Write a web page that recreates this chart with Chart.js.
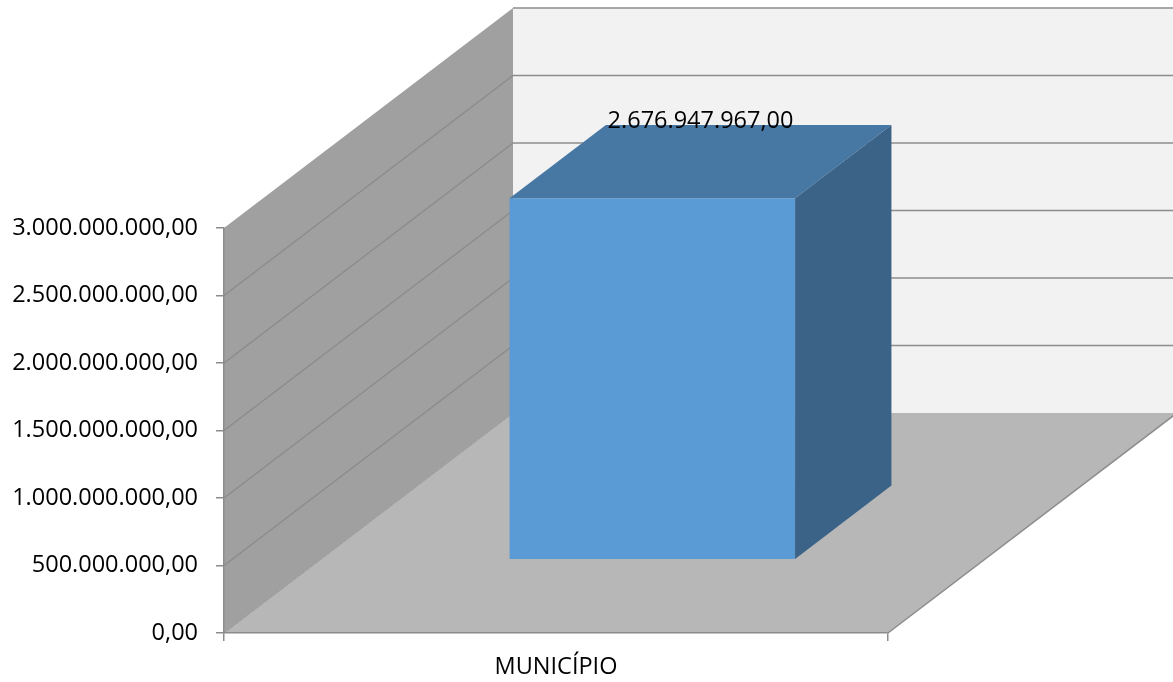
<!DOCTYPE html>
<html>
<head>
<meta charset="utf-8">
<script src="https://cdn.jsdelivr.net/npm/chart.js@4/dist/chart.umd.min.js"></script>
<style>
  html, body { margin: 0; padding: 0; background: #ffffff; }
  canvas { display: block; }
</style>
</head>
<body>
<canvas id="c" width="1173" height="682"></canvas>
<script>
// ---- data ----
const categories = ['MUNICÍPIO'];
const values = [2676947967];
const yTickValues = [0, 500000000, 1000000000, 1500000000, 2000000000, 2500000000, 3000000000];
const yMin = 0;
const yMax = 3000000000;
const yStep = 500000000;

// ---- helpers ----
function fmtBR(v) {
  const neg = v < 0;
  v = Math.abs(v);
  const fixed = v.toFixed(2);
  const parts = fixed.split('.');
  const intPart = parts[0].replace(/\B(?=(\d{3})+(?!\d))/g, '.');
  return (neg ? '-' : '') + intPart + ',' + parts[1];
}

const FONT = "'Open Sans', 'Noto Sans', sans-serif";
const DEPTH = { x: 289, y: -220 };   // 3D depth vector of the plot box
const BAR_FRONT = 1 / 3;            // bar occupies middle third of depth
const BAR_BACK = 2 / 3;

const COLORS = {
  backWall: '#f2f2f2',
  sideWall: '#a0a0a0',
  floor: '#b7b7b7',
  grid: '#8c8c8c',
  sideGrid: '#8a8a8a',
  barFront: '#5b9bd5',
  barTop: '#4777a3',
  barSide: '#3a6387'
};

const walls3D = {
  id: 'walls3D',
  beforeDraw(chart) {
    const { ctx, chartArea: a } = chart;
    const ys = chart.scales.y;
    const dx = DEPTH.x, dy = DEPTH.y;
    ctx.save();
    // back wall
    ctx.fillStyle = COLORS.backWall;
    ctx.fillRect(a.left + dx, a.top + dy, a.right - a.left, a.bottom - a.top);
    // back wall grid lines
    ctx.strokeStyle = COLORS.grid;
    ctx.lineWidth = 1.6;
    yTickValues.forEach(v => {
      if (v === yMin) return;
      const y = ys.getPixelForValue(v) + dy;
      ctx.beginPath();
      ctx.moveTo(a.left + dx, y);
      ctx.lineTo(a.right + dx + 2, y);
      ctx.stroke();
    });
    // left wall
    ctx.fillStyle = COLORS.sideWall;
    ctx.beginPath();
    ctx.moveTo(a.left, a.bottom);
    ctx.lineTo(a.left, a.top);
    ctx.lineTo(a.left + dx, a.top + dy);
    ctx.lineTo(a.left + dx, a.bottom + dy);
    ctx.closePath();
    ctx.fill();
    // left wall grid lines
    ctx.strokeStyle = COLORS.sideGrid;
    ctx.lineWidth = 1.2;
    yTickValues.forEach(v => {
      if (v === yMin || v === yMax) return;
      const y = ys.getPixelForValue(v);
      ctx.beginPath();
      ctx.moveTo(a.left, y);
      ctx.lineTo(a.left + dx, y + dy);
      ctx.stroke();
    });
    // floor
    ctx.fillStyle = COLORS.floor;
    ctx.beginPath();
    ctx.moveTo(a.left, a.bottom);
    ctx.lineTo(a.right, a.bottom);
    ctx.lineTo(a.right + dx, a.bottom + dy);
    ctx.lineTo(a.left + dx, a.bottom + dy);
    ctx.closePath();
    ctx.fill();
    // floor edges
    ctx.strokeStyle = COLORS.grid;
    ctx.lineWidth = 1.5;
    ctx.beginPath();
    ctx.moveTo(a.right, a.bottom);
    ctx.lineTo(a.right + dx, a.bottom + dy);
    ctx.stroke();
    ctx.strokeStyle = '#9a9a9a';
    ctx.lineWidth = 1;
    ctx.beginPath();
    ctx.moveTo(a.left, a.bottom);
    ctx.lineTo(a.left + dx, a.bottom + dy);
    ctx.stroke();
    ctx.restore();
  },
  beforeDatasetDraw(chart) {
    chart.ctx.save();
    chart.ctx.translate(DEPTH.x * BAR_FRONT, DEPTH.y * BAR_FRONT);
  },
  afterDatasetDraw(chart, args) {
    const { ctx } = chart;
    ctx.restore();
    const meta = args.meta;
    const bx = DEPTH.x * BAR_FRONT, by = DEPTH.y * BAR_FRONT;
    const ddx = DEPTH.x * (BAR_BACK - BAR_FRONT), ddy = DEPTH.y * (BAR_BACK - BAR_FRONT);
    meta.data.forEach((bar, i) => {
      const p = bar.getProps(['x', 'y', 'base', 'width'], true);
      const L = p.x - p.width / 2 + bx;
      const R = p.x + p.width / 2 + bx;
      const T = p.y + by;
      const B = p.base + by;
      ctx.save();
      // top face
      ctx.fillStyle = COLORS.barTop;
      ctx.beginPath();
      ctx.moveTo(L, T);
      ctx.lineTo(R, T);
      ctx.lineTo(R + ddx, T + ddy);
      ctx.lineTo(L + ddx, T + ddy);
      ctx.closePath();
      ctx.fill();
      // right face
      ctx.fillStyle = COLORS.barSide;
      ctx.beginPath();
      ctx.moveTo(R, T);
      ctx.lineTo(R + ddx, T + ddy);
      ctx.lineTo(R + ddx, B + ddy);
      ctx.lineTo(R, B);
      ctx.closePath();
      ctx.fill();
      // value label
      ctx.fillStyle = '#000';
      ctx.font = '23.5px ' + FONT;
      ctx.textAlign = 'center';
      ctx.textBaseline = 'alphabetic';
      ctx.fillText(fmtBR(values[i]), p.x + DEPTH.x * 0.5, T + ddy + 3);
      ctx.restore();
    });
  }
};

new Chart(document.getElementById('c'), {
  type: 'bar',
  data: {
    labels: categories,
    datasets: [{
      data: values,
      backgroundColor: COLORS.barFront,
      borderWidth: 0,
      barPercentage: 0.43,
      categoryPercentage: 1.0,
      clip: false
    }]
  },
  options: {
    responsive: false,
    animation: false,
    devicePixelRatio: 1,
    layout: { padding: { top: 228, right: 285, left: 0, bottom: 0 } },
    plugins: {
      legend: { display: false },
      tooltip: { enabled: false },
      title: { display: false }
    },
    scales: {
      x: {
        offset: true,
        grid: { display: true, offset: true, drawOnChartArea: false, drawTicks: true, tickLength: 8, color: '#8c8c8c', lineWidth: 1.5 },
        border: { display: true, color: '#8c8c8c', width: 1.5 },
        ticks: { color: '#000', font: { family: FONT, size: 23.5 }, padding: 12, maxRotation: 0 },
        afterFit(s) { s.height = 49; }
      },
      y: {
        min: yMin,
        max: yMax,
        grid: { display: true, drawOnChartArea: false, drawTicks: true, tickLength: 8, color: '#8c8c8c', lineWidth: 1.5 },
        border: { display: true, color: '#8c8c8c', width: 1.5 },
        ticks: {
          stepSize: yStep,
          color: '#000',
          font: { family: FONT, size: 23.5 },
          padding: 18,
          callback: (v) => fmtBR(v)
        },
        afterFit(s) { s.width = 224; }
      }
    }
  },
  plugins: [walls3D]
});
</script>
</body>
</html>
